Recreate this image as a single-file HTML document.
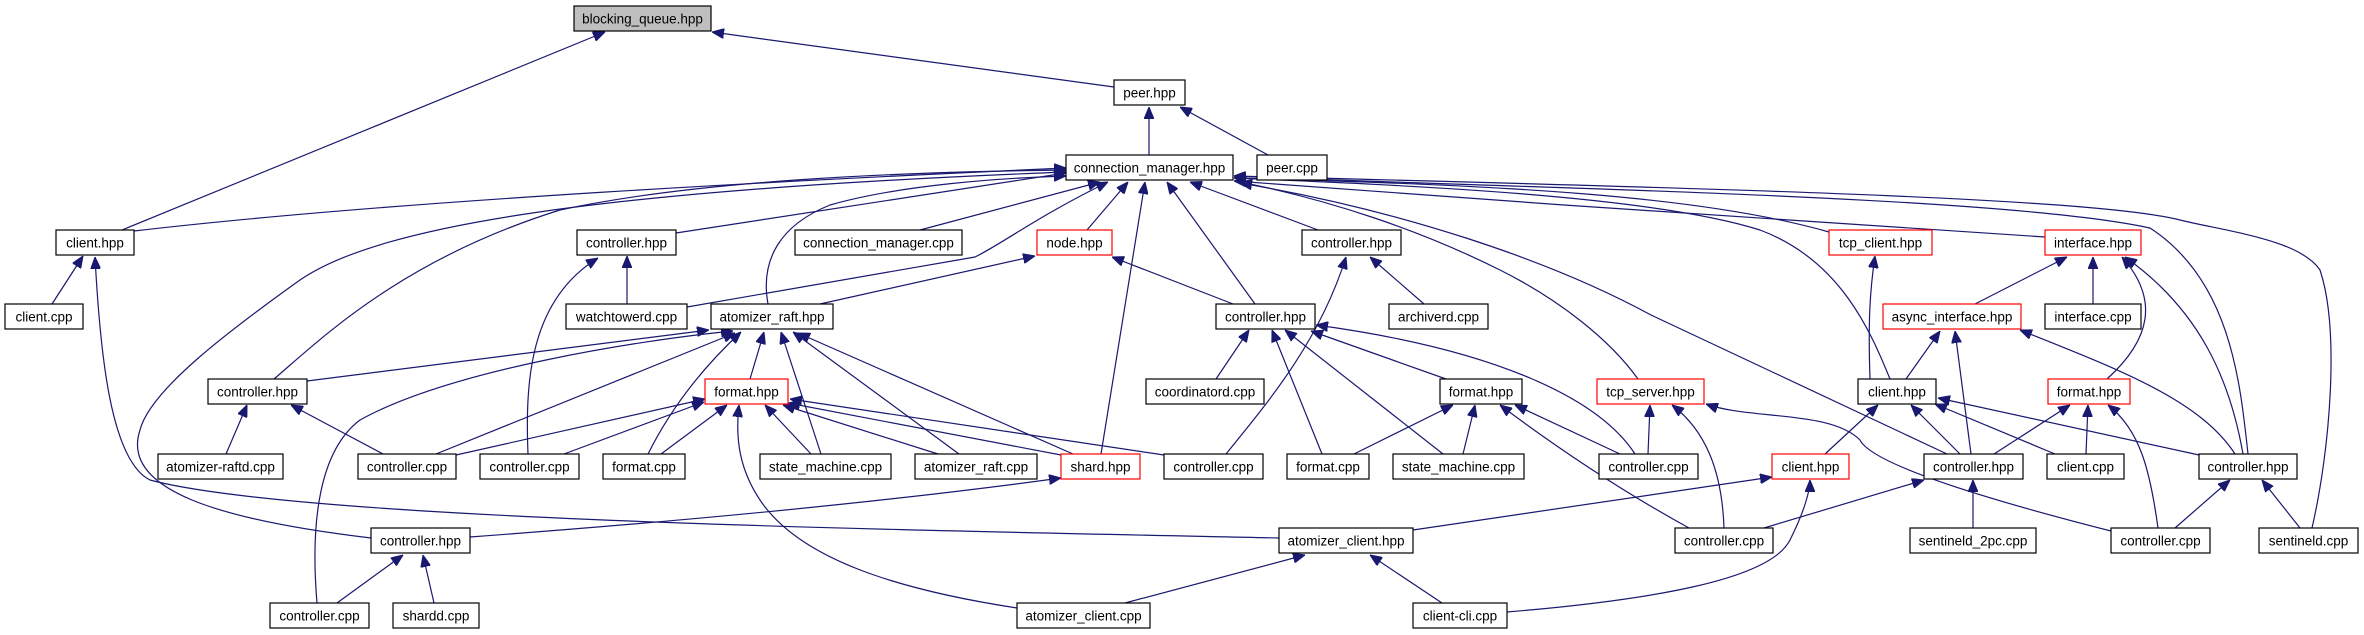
<!DOCTYPE html>
<html><head><meta charset="utf-8"><style>
html,body{margin:0;padding:0;background:#fff;}
svg{display:block;}
text{font-family:"Liberation Sans",Arial,sans-serif;font-size:13.5px;fill:#000;}
.e{fill:none;stroke:#191970;stroke-width:1.2;}
.n{fill:#fff;stroke:#000;stroke-width:1.2;}
.r{fill:#fff;stroke:#ff0000;stroke-width:1.2;}
</style></head><body>
<svg width="2364" height="635" viewBox="0 0 2364 635" xmlns="http://www.w3.org/2000/svg">
<defs><marker id="a" markerUnits="userSpaceOnUse" markerWidth="12" markerHeight="10" refX="12" refY="5" orient="auto"><path d="M0,0 L12,5 L0,10 z" fill="#191970" stroke="#191970"/></marker></defs>
<g class="e" marker-end="url(#a)">
<path d="M122,230 L605,32"/>
<path d="M1114,87 L712,32"/>
<path d="M1149,155 L1149,107"/>
<path d="M1268,155 L1180,107"/>
<path d="M134,231 C 400,200 800,180 1066,168"/>
<path d="M52,304 L83,256"/>
<path d="M1279,538 C 900,530 300,520 150,480 C 110,460 100,350 95,257"/>
<path d="M371,538 C 220,520 120,490 140,430 C 150,390 230,330 300,280 C 380,225 600,190 1066,172"/>
<path d="M274,379 C 320,340 400,260 560,210 C 700,180 900,172 1066,170"/>
<path d="M317,603 C 310,520 320,450 360,420 C 450,370 640,340 733,331"/>
<path d="M676,233 L1066,173"/>
<path d="M627,304 L627,256"/>
<path d="M528,454 C 525,380 530,300 598,258"/>
<path d="M687,307 L975,257 C 1000,245 1040,215 1108,182"/>
<path d="M768,304 C 760,260 780,225 830,205 C 900,185 1000,178 1066,176"/>
<path d="M920,230 L1100,182"/>
<path d="M1087,230 L1128,182"/>
<path d="M1101,454 L1145,182"/>
<path d="M1255,304 L1167,182"/>
<path d="M820,304 L1035,256"/>
<path d="M1233,304 L1112,257"/>
<path d="M1318,230 L1190,182"/>
<path d="M1424,304 L1370,257"/>
<path d="M1226,454 C 1270,400 1320,340 1346,257"/>
<path d="M1638,379 C 1610,340 1560,300 1500,270 C 1420,230 1330,200 1240,182"/>
<path d="M1829,232 C 1700,195 1500,185 1234,178"/>
<path d="M2045,237 L1564,205 L1234,181"/>
<path d="M1890,379 C 1870,330 1840,260 1760,230 C 1650,195 1400,185 1234,178"/>
<path d="M1870,379 C 1868,320 1870,290 1875,256"/>
<path d="M1947,454 L1651,315 C 1550,260 1400,210 1240,183"/>
<path d="M2248,454 C 2240,380 2230,280 2150,228 C 2000,195 1500,188 1234,176"/>
<path d="M2312,528 C 2330,450 2340,330 2320,270 C 2300,240 2230,232 2180,220 C 2100,200 1800,190 1234,176"/>
<path d="M2107,379 C 2150,340 2160,300 2122,257"/>
<path d="M2243,454 C 2230,380 2200,310 2125,257"/>
<path d="M1975,304 L2067,257"/>
<path d="M2093,304 L2093,257"/>
<path d="M1906,379 L1940,331"/>
<path d="M1971,454 L1955,331"/>
<path d="M2235,454 C 2200,400 2120,370 2020,330"/>
<path d="M1825,454 L1878,405"/>
<path d="M1960,454 L1911,405"/>
<path d="M2055,454 L1935,404"/>
<path d="M2199,455 L1938,398"/>
<path d="M1994,454 L2070,405"/>
<path d="M2086,454 L2088,405"/>
<path d="M2158,528 C 2150,470 2140,430 2108,405"/>
<path d="M2175,528 L2230,480"/>
<path d="M2300,528 L2262,480"/>
<path d="M1973,528 L1973,480"/>
<path d="M1764,528 L1924,480"/>
<path d="M1648,454 L1650,405"/>
<path d="M1724,528 C 1722,470 1705,430 1672,405"/>
<path d="M2111,531 C 1950,490 1870,460 1860,440 C 1830,410 1750,420 1706,404"/>
<path d="M1413,530 L1772,477"/>
<path d="M1507,612 C 1650,600 1770,580 1790,540 C 1805,510 1810,490 1810,480"/>
<path d="M1635,454 C 1600,400 1500,350 1316,325"/>
<path d="M1620,454 L1515,405"/>
<path d="M1689,528 C 1620,490 1560,450 1500,405"/>
<path d="M1216,379 L1249,330"/>
<path d="M1322,454 L1272,330"/>
<path d="M1443,454 L1285,330"/>
<path d="M1446,379 L1311,331"/>
<path d="M1354,454 L1453,405"/>
<path d="M1463,454 L1475,405"/>
<path d="M1164,455 L790,399"/>
<path d="M1061,455 L788,403"/>
<path d="M1073,454 L798,333"/>
<path d="M959,454 L793,332"/>
<path d="M938,454 L783,405"/>
<path d="M821,454 L781,332"/>
<path d="M811,454 L765,405"/>
<path d="M750,379 L764,332"/>
<path d="M648,454 C 670,410 700,370 741,332"/>
<path d="M661,454 L727,405"/>
<path d="M564,454 L704,402"/>
<path d="M456,455 L705,399"/>
<path d="M436,454 L735,333"/>
<path d="M383,454 L291,405"/>
<path d="M226,454 L247,405"/>
<path d="M307,381 L709,330"/>
<path d="M337,603 L403,555"/>
<path d="M434,603 L423,555"/>
<path d="M470,537 C 700,520 900,500 1061,478"/>
<path d="M1017,608 C 900,590 800,560 760,500 C 740,470 735,440 739,405"/>
<path d="M1125,603 L1305,555"/>
<path d="M1442,603 L1370,555"/>
</g>
<g>
<rect class="n" x="574" y="6" width="137" height="25" style="fill:#bfbfbf"/><text x="642.5" y="23.5" text-anchor="middle">blocking_queue.hpp</text>
<rect class="n" x="1114" y="80" width="71" height="25"/><text x="1149.5" y="97.5" text-anchor="middle">peer.hpp</text>
<rect class="n" x="1066" y="155" width="167" height="25"/><text x="1149.5" y="172.5" text-anchor="middle">connection_manager.hpp</text>
<rect class="n" x="1257" y="155" width="70" height="25"/><text x="1292" y="172.5" text-anchor="middle">peer.cpp</text>
<rect class="n" x="56" y="230" width="78" height="25"/><text x="95" y="247.5" text-anchor="middle">client.hpp</text>
<rect class="n" x="577" y="230" width="99" height="25"/><text x="626.5" y="247.5" text-anchor="middle">controller.hpp</text>
<rect class="n" x="795" y="230" width="167" height="25"/><text x="878.5" y="247.5" text-anchor="middle">connection_manager.cpp</text>
<rect class="r" x="1037" y="230" width="75" height="25"/><text x="1074.5" y="247.5" text-anchor="middle">node.hpp</text>
<rect class="n" x="1302" y="230" width="99" height="25"/><text x="1351.5" y="247.5" text-anchor="middle">controller.hpp</text>
<rect class="r" x="1829" y="230" width="103" height="25"/><text x="1880.5" y="247.5" text-anchor="middle">tcp_client.hpp</text>
<rect class="r" x="2045" y="230" width="96" height="25"/><text x="2093" y="247.5" text-anchor="middle">interface.hpp</text>
<rect class="n" x="5" y="304" width="78" height="25"/><text x="44" y="321.5" text-anchor="middle">client.cpp</text>
<rect class="n" x="566" y="304" width="121" height="25"/><text x="626.5" y="321.5" text-anchor="middle">watchtowerd.cpp</text>
<rect class="n" x="711" y="304" width="122" height="25"/><text x="772" y="321.5" text-anchor="middle">atomizer_raft.hpp</text>
<rect class="n" x="1216" y="304" width="99" height="25"/><text x="1265.5" y="321.5" text-anchor="middle">controller.hpp</text>
<rect class="n" x="1389" y="304" width="99" height="25"/><text x="1438.5" y="321.5" text-anchor="middle">archiverd.cpp</text>
<rect class="r" x="1883" y="304" width="138" height="25"/><text x="1952" y="321.5" text-anchor="middle">async_interface.hpp</text>
<rect class="n" x="2045" y="304" width="96" height="25"/><text x="2093" y="321.5" text-anchor="middle">interface.cpp</text>
<rect class="n" x="208" y="379" width="99" height="25"/><text x="257.5" y="396.5" text-anchor="middle">controller.hpp</text>
<rect class="r" x="705" y="379" width="83" height="25"/><text x="746.5" y="396.5" text-anchor="middle">format.hpp</text>
<rect class="n" x="1146" y="379" width="118" height="25"/><text x="1205" y="396.5" text-anchor="middle">coordinatord.cpp</text>
<rect class="n" x="1440" y="379" width="82" height="25"/><text x="1481" y="396.5" text-anchor="middle">format.hpp</text>
<rect class="r" x="1597" y="379" width="107" height="25"/><text x="1650.5" y="396.5" text-anchor="middle">tcp_server.hpp</text>
<rect class="n" x="1858" y="379" width="78" height="25"/><text x="1897" y="396.5" text-anchor="middle">client.hpp</text>
<rect class="r" x="2048" y="379" width="82" height="25"/><text x="2089" y="396.5" text-anchor="middle">format.hpp</text>
<rect class="n" x="158" y="454" width="125" height="25"/><text x="220.5" y="471.5" text-anchor="middle">atomizer-raftd.cpp</text>
<rect class="n" x="358" y="454" width="98" height="25"/><text x="407" y="471.5" text-anchor="middle">controller.cpp</text>
<rect class="n" x="480" y="454" width="99" height="25"/><text x="529.5" y="471.5" text-anchor="middle">controller.cpp</text>
<rect class="n" x="603" y="454" width="82" height="25"/><text x="644" y="471.5" text-anchor="middle">format.cpp</text>
<rect class="n" x="760" y="454" width="131" height="25"/><text x="825.5" y="471.5" text-anchor="middle">state_machine.cpp</text>
<rect class="n" x="915" y="454" width="122" height="25"/><text x="976" y="471.5" text-anchor="middle">atomizer_raft.cpp</text>
<rect class="r" x="1061" y="454" width="79" height="25"/><text x="1100.5" y="471.5" text-anchor="middle">shard.hpp</text>
<rect class="n" x="1164" y="454" width="99" height="25"/><text x="1213.5" y="471.5" text-anchor="middle">controller.cpp</text>
<rect class="n" x="1287" y="454" width="82" height="25"/><text x="1328" y="471.5" text-anchor="middle">format.cpp</text>
<rect class="n" x="1393" y="454" width="131" height="25"/><text x="1458.5" y="471.5" text-anchor="middle">state_machine.cpp</text>
<rect class="n" x="1599" y="454" width="99" height="25"/><text x="1648.5" y="471.5" text-anchor="middle">controller.cpp</text>
<rect class="r" x="1772" y="454" width="77" height="25"/><text x="1810.5" y="471.5" text-anchor="middle">client.hpp</text>
<rect class="n" x="1924" y="454" width="99" height="25"/><text x="1973.5" y="471.5" text-anchor="middle">controller.hpp</text>
<rect class="n" x="2047" y="454" width="77" height="25"/><text x="2085.5" y="471.5" text-anchor="middle">client.cpp</text>
<rect class="n" x="2199" y="454" width="98" height="25"/><text x="2248" y="471.5" text-anchor="middle">controller.hpp</text>
<rect class="n" x="371" y="528" width="99" height="25"/><text x="420.5" y="545.5" text-anchor="middle">controller.hpp</text>
<rect class="n" x="1279" y="528" width="134" height="25"/><text x="1346" y="545.5" text-anchor="middle">atomizer_client.hpp</text>
<rect class="n" x="1675" y="528" width="98" height="25"/><text x="1724" y="545.5" text-anchor="middle">controller.cpp</text>
<rect class="n" x="1910" y="528" width="126" height="25"/><text x="1973" y="545.5" text-anchor="middle">sentineld_2pc.cpp</text>
<rect class="n" x="2111" y="528" width="99" height="25"/><text x="2160.5" y="545.5" text-anchor="middle">controller.cpp</text>
<rect class="n" x="2259" y="528" width="99" height="25"/><text x="2308.5" y="545.5" text-anchor="middle">sentineld.cpp</text>
<rect class="n" x="270" y="603" width="99" height="25"/><text x="319.5" y="620.5" text-anchor="middle">controller.cpp</text>
<rect class="n" x="393" y="603" width="86" height="25"/><text x="436" y="620.5" text-anchor="middle">shardd.cpp</text>
<rect class="n" x="1017" y="603" width="133" height="25"/><text x="1083.5" y="620.5" text-anchor="middle">atomizer_client.cpp</text>
<rect class="n" x="1413" y="603" width="94" height="25"/><text x="1460" y="620.5" text-anchor="middle">client-cli.cpp</text>
</g>
</svg>
</body></html>
